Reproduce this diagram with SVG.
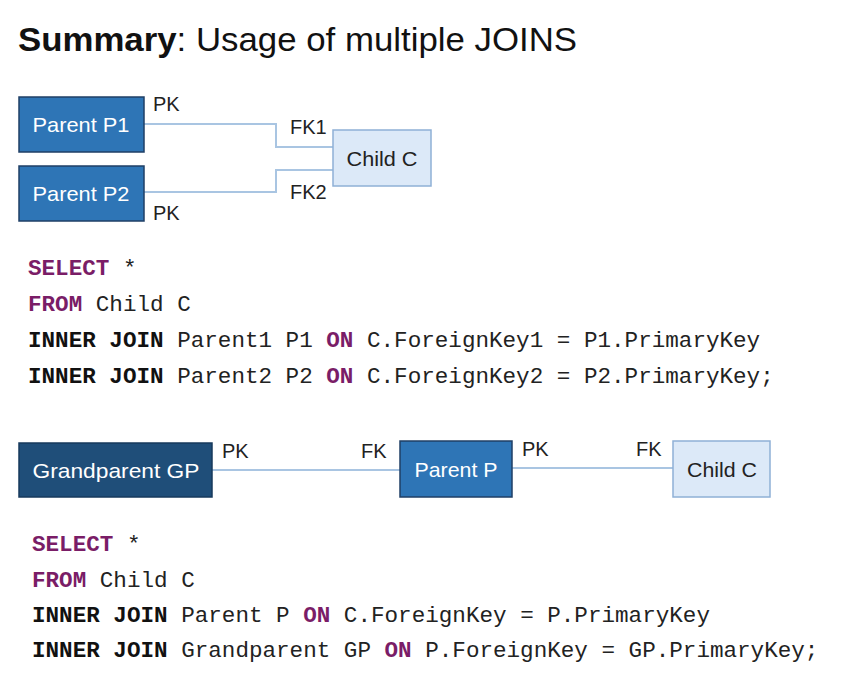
<svg xmlns="http://www.w3.org/2000/svg" width="852" height="681" viewBox="0 0 852 681">
<style>
.bg{fill:#ffffff}
.title{font-family:"Liberation Sans",Arial,sans-serif;font-size:34px;fill:#111}
.lbl{font-family:"Liberation Sans",Arial,sans-serif;font-size:20px;fill:#222}
.boxt{font-family:"Liberation Sans",Arial,sans-serif;font-size:21px;text-anchor:middle}
.wt{fill:#ffffff}
.dt{fill:#222}
.parent{fill:#2e75b6;stroke:#1f3f66;stroke-width:1.5}
.gp{fill:#1f4e79;stroke:#173a5c;stroke-width:1.5}
.child{fill:#dce9f8;stroke:#8fb0d6;stroke-width:1.5}
.conn{fill:none;stroke:#a9c5e2;stroke-width:2}
.code{font-family:"Liberation Mono","Courier New",monospace;fill:#222}
.kw{font-weight:bold;fill:#7a1d67}
.kb{font-weight:bold;fill:#111}
</style>
<rect class="bg" x="0" y="0" width="852" height="681"/>
<g id="title">
<text class="title" x="18" y="51" textLength="559" lengthAdjust="spacingAndGlyphs"><tspan font-weight="bold">Summary</tspan>: Usage of multiple JOINS</text>
</g>
<g id="connectors">
<polyline class="conn" points="144,124 276,124 276,147 333,147"/>
<polyline class="conn" points="144,192 276,192 276,170 333,170"/>
<line class="conn" x1="212" y1="470" x2="400" y2="470"/>
<line class="conn" x1="512" y1="468" x2="673" y2="468"/>
</g>
<g id="labels">
<text class="lbl" x="153" y="111">PK</text>
<text class="lbl" x="290" y="134">FK1</text>
<text class="lbl" x="290" y="199">FK2</text>
<text class="lbl" x="153" y="220">PK</text>
<text class="lbl" x="222" y="458">PK</text>
<text class="lbl" x="361" y="458">FK</text>
<text class="lbl" x="522" y="456">PK</text>
<text class="lbl" x="636" y="456">FK</text>
</g>
<g id="parentP1">
<rect class="parent" x="19" y="97" width="125" height="55"/>
<text class="boxt wt" x="81" y="132" textLength="97" lengthAdjust="spacingAndGlyphs">Parent P1</text>
</g>
<g id="parentP2">
<rect class="parent" x="19" y="166" width="125" height="55"/>
<text class="boxt wt" x="81" y="201" textLength="97" lengthAdjust="spacingAndGlyphs">Parent P2</text>
</g>
<g id="childC1">
<rect class="child" x="333" y="130" width="98" height="56"/>
<text class="boxt dt" x="382" y="166" textLength="71" lengthAdjust="spacingAndGlyphs">Child C</text>
</g>
<g id="grandparentGP">
<rect class="gp" x="19" y="443" width="193" height="54"/>
<text class="boxt wt" x="116" y="478" textLength="167" lengthAdjust="spacingAndGlyphs">Grandparent GP</text>
</g>
<g id="parentP">
<rect class="parent" x="400" y="441" width="112" height="56"/>
<text class="boxt wt" x="456" y="477" textLength="83" lengthAdjust="spacingAndGlyphs">Parent P</text>
</g>
<g id="childC2">
<rect class="child" x="673" y="441" width="97" height="56"/>
<text class="boxt dt" x="722" y="477" textLength="70" lengthAdjust="spacingAndGlyphs">Child C</text>
</g>
<g id="code1" class="code" font-size="22.6" xml:space="preserve">
<text x="28" y="275"><tspan class="kw">SELECT</tspan> *</text>
<text x="28" y="311"><tspan class="kw">FROM</tspan> Child C</text>
<text x="28" y="347"><tspan class="kb">INNER JOIN</tspan> Parent1 P1 <tspan class="kw">ON</tspan> C.ForeignKey1 = P1.PrimaryKey</text>
<text x="28" y="383"><tspan class="kb">INNER JOIN</tspan> Parent2 P2 <tspan class="kw">ON</tspan> C.ForeignKey2 = P2.PrimaryKey;</text>
</g>
<g id="code2" class="code" font-size="22.6" xml:space="preserve">
<text x="32" y="551"><tspan class="kw">SELECT</tspan> *</text>
<text x="32" y="587"><tspan class="kw">FROM</tspan> Child C</text>
<text x="32" y="622"><tspan class="kb">INNER JOIN</tspan> Parent P <tspan class="kw">ON</tspan> C.ForeignKey = P.PrimaryKey</text>
<text x="32" y="657"><tspan class="kb">INNER JOIN</tspan> Grandparent GP <tspan class="kw">ON</tspan> P.ForeignKey = GP.PrimaryKey;</text>
</g>
</svg>
